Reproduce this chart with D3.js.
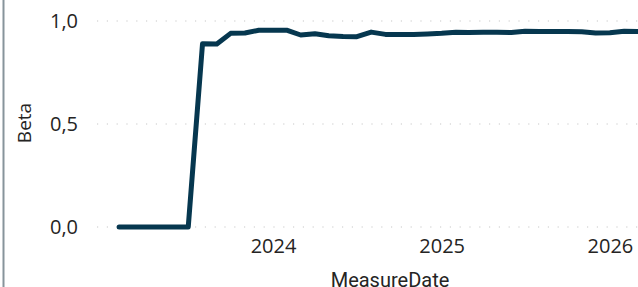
<!DOCTYPE html>
<html>
<head>
<meta charset="utf-8">
<script src="https://cdn.jsdelivr.net/npm/d3@7"></script>
<style>
  body { margin: 0; background: #fff; }
  svg { display: block; }
</style>
</head>
<body>
<svg id="chart"></svg>
<script>
// monthly measure dates and beta values
var months = [
  "2023-02", "2023-03", "2023-04", "2023-05", "2023-06", "2023-07",
  "2023-08", "2023-09", "2023-10", "2023-11", "2023-12",
  "2024-01", "2024-02", "2024-03", "2024-04", "2024-05", "2024-06",
  "2024-07", "2024-08", "2024-09", "2024-10", "2024-11", "2024-12",
  "2025-01", "2025-02", "2025-03", "2025-04", "2025-05", "2025-06",
  "2025-07", "2025-08", "2025-09", "2025-10", "2025-11", "2025-12",
  "2026-01", "2026-02", "2026-03"
];
var betas = [
  0, 0, 0, 0, 0, 0,
  0.890, 0.888, 0.940, 0.942, 0.955,
  0.955, 0.955, 0.932, 0.938, 0.928, 0.925,
  0.924, 0.946, 0.935, 0.934, 0.935, 0.937,
  0.940, 0.945, 0.944, 0.945, 0.945, 0.944,
  0.950, 0.949, 0.949, 0.949, 0.948, 0.942,
  0.943, 0.950, 0.949
];
var yTicks = [0, 0.5, 1];
var xTickYears = [2024, 2025, 2026];

var W = 638, H = 287;
var plotLeft = 97, plotRight = 638, plotTop = 21, plotBottom = 227;

var parse = d3.timeParse("%Y-%m");
var data = months.map(function (m, i) { return { date: parse(m), value: betas[i] }; });

var svg = d3.select("#chart").attr("width", W).attr("height", H);

// x scale: time, fitted so year ticks land where the reference has them
var x = d3.scaleTime()
  .domain([new Date(2022, 11, 15), new Date(2026, 2, 3)])
  .range([plotLeft, plotRight]);

var y = d3.scaleLinear().domain([0, 1]).range([plotBottom, plotTop]);

// frame line on the far left
svg.append("line")
  .attr("x1", 3.5).attr("x2", 3.5)
  .attr("y1", 0).attr("y2", H)
  .attr("stroke", "#87949b")
  .attr("stroke-width", 2);

// y gridlines + labels
var yAxis = svg.append("g")
  .attr("transform", "translate(78,0)")
  .call(d3.axisLeft(y).tickValues(yTicks).tickSize(0).tickPadding(0)
    .tickFormat(function (d) { return d3.format(".1f")(d).replace(".", ","); }));
yAxis.select(".domain").remove();
yAxis.selectAll("text")
  .attr("font-family", "'Segoe UI', 'Open Sans', sans-serif")
  .attr("font-size", 20)
  .attr("fill", "#252423");

svg.append("g").selectAll("line")
  .data(yTicks)
  .enter().append("line")
  .attr("x1", plotLeft).attr("x2", plotRight)
  .attr("y1", function (d) { return y(d); })
  .attr("y2", function (d) { return y(d); })
  .attr("stroke", "#c8c8c8")
  .attr("stroke-width", 1.2)
  .attr("stroke-dasharray", "1.2,8.6");

// x axis labels
var xAxis = svg.append("g")
  .attr("transform", "translate(0," + (plotBottom + 12) + ")")
  .call(d3.axisBottom(x)
    .tickValues(xTickYears.map(function (yr) { return new Date(yr, 0, 1); }))
    .tickSize(0).tickPadding(0)
    .tickFormat(d3.timeFormat("%Y")));
xAxis.select(".domain").remove();
xAxis.selectAll("text")
  .attr("dy", "0.71em")
  .attr("font-family", "'Segoe UI', 'Open Sans', sans-serif")
  .attr("font-size", 20)
  .attr("fill", "#252423");

// axis titles
svg.append("text")
  .attr("x", 390)
  .attr("y", 287)
  .attr("text-anchor", "middle")
  .attr("font-family", "Roboto, sans-serif")
  .attr("font-size", 20)
  .attr("fill", "#252423")
  .text("MeasureDate");

svg.append("text")
  .attr("transform", "translate(31,123) rotate(-90)")
  .attr("text-anchor", "middle")
  .attr("font-family", "'Segoe UI', 'Open Sans', sans-serif")
  .attr("font-size", 19)
  .attr("fill", "#252423")
  .text("Beta");

// the line
var line = d3.line()
  .x(function (d) { return x(d.date); })
  .y(function (d) { return y(d.value); });

svg.append("path")
  .datum(data)
  .attr("d", line)
  .attr("fill", "none")
  .attr("stroke", "#06374f")
  .attr("stroke-width", 5)
  .attr("stroke-linejoin", "round")
  .attr("stroke-linecap", "round");
</script>
</body>
</html>
